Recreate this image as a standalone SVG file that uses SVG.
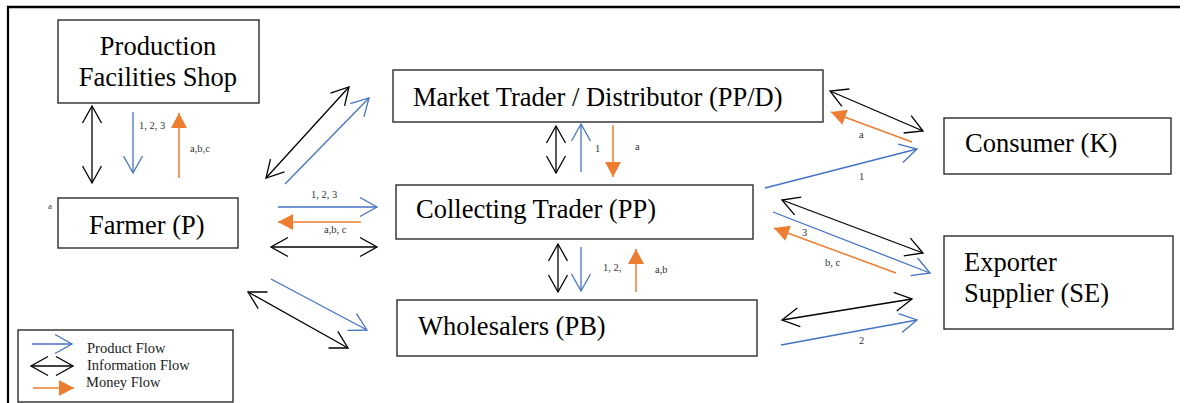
<svg xmlns="http://www.w3.org/2000/svg" width="1190" height="403" viewBox="0 0 1190 403">
  <style>
    .box { fill: #ffffff; stroke: #2b2b2b; stroke-width: 1.4; }
    .nm { font-size: 26.5px; fill: #000000; }
    .lbl { font-size: 10.5px; fill: #333333; }
    .leg { font-size: 14.5px; fill: #1a1a1a; }
    .info { stroke: #000000; stroke-width: 1.3; fill: none; marker-start: url(#chevK); marker-end: url(#chevK); }
    .prod { stroke: #4472C4; stroke-width: 1.3; fill: none; marker-end: url(#chevB); }
    .money { stroke: #ED7D31; stroke-width: 1.5; fill: none; marker-end: url(#triO); }
  </style>
  <defs>
    <!-- open chevron heads for information (black) and product (blue) flows -->
    <marker id="chevK" markerUnits="userSpaceOnUse" viewBox="-19 -11 21 22" markerWidth="21" markerHeight="22" refX="0" refY="0" orient="auto-start-reverse" overflow="visible">
      <path d="M-17,-9.5 L0,0 L-17,9.5" fill="none" stroke="#000000" stroke-width="1.3"/>
    </marker>
    <marker id="chevB" markerUnits="userSpaceOnUse" viewBox="-19 -11 21 22" markerWidth="21" markerHeight="22" refX="0" refY="0" orient="auto" overflow="visible">
      <path d="M-17,-9.5 L0,0 L-17,9.5" fill="none" stroke="#4472C4" stroke-width="1.3"/>
    </marker>
    <!-- filled triangle head for money flow -->
    <marker id="triO" markerUnits="userSpaceOnUse" viewBox="-16 -9 17 18" markerWidth="17" markerHeight="18" refX="0" refY="0" orient="auto" overflow="visible">
      <path d="M-15,-8 L0,0 L-15,8 Z" fill="#ED7D31"/>
    </marker>
  </defs>

  <rect width="1190" height="403" fill="#ffffff"/>

  <!-- frame -->
  <line x1="7" y1="7" x2="1180" y2="7" stroke="#000000" stroke-width="2.4"/>
  <line x1="8" y1="6" x2="8" y2="403" stroke="#000000" stroke-width="2.2"/>

  <g font-family="'Liberation Serif', 'Times New Roman', serif">
    <g id="node-shop">
      <rect class="box" x="58" y="20" width="201" height="83"/>
      <text class="nm" x="158" y="55" text-anchor="middle">Production</text>
      <text class="nm" x="158" y="86" text-anchor="middle">Facilities Shop</text>
    </g>

    <g id="node-farmer">
      <rect class="box" x="58" y="198" width="180" height="50"/>
      <text class="nm" x="89" y="234">Farmer (P)</text>
      <text class="lbl" x="48" y="209" style="font-size:9px">a</text>
    </g>

    <g id="node-market">
      <rect class="box" x="393" y="70" width="430" height="52"/>
      <text class="nm" x="413" y="106">Market Trader / Distributor (PP/D)</text>
    </g>

    <g id="node-collecting">
      <rect class="box" x="396" y="185" width="357" height="54"/>
      <text class="nm" x="416" y="218">Collecting Trader (PP)</text>
    </g>

    <g id="node-wholesalers">
      <rect class="box" x="397" y="300" width="360" height="56"/>
      <text class="nm" x="418" y="335">Wholesalers (PB)</text>
    </g>

    <g id="node-consumer">
      <rect class="box" x="944" y="118" width="227" height="56"/>
      <text class="nm" x="965" y="152">Consumer (K)</text>
    </g>

    <g id="node-exporter">
      <rect class="box" x="944" y="236" width="229" height="93"/>
      <text class="nm" x="964" y="271">Exporter</text>
      <text class="nm" x="964" y="302">Supplier (SE)</text>
    </g>

    <g id="connectors">
      <!-- information flows -->
      <line class="info" x1="92" y1="106" x2="92" y2="183"/>
      <line class="info" x1="266" y1="178" x2="349" y2="87"/>
      <line class="info" x1="271" y1="247" x2="377" y2="247"/>
      <line class="info" x1="248" y1="292" x2="348" y2="348"/>
      <line class="info" x1="556" y1="126" x2="556" y2="173"/>
      <line class="info" x1="558" y1="244" x2="558" y2="292"/>
      <line class="info" x1="830" y1="91" x2="923" y2="131"/>
      <line class="info" x1="782" y1="200" x2="923" y2="253"/>
      <line class="info" x1="782" y1="320" x2="912" y2="299"/>

      <!-- product flows -->
      <line class="prod" x1="133" y1="112" x2="133" y2="173"/>
      <line class="prod" x1="285" y1="184" x2="369" y2="98"/>
      <line class="prod" x1="278" y1="207" x2="377" y2="207"/>
      <line class="prod" x1="271" y1="279" x2="367" y2="330"/>
      <line class="prod" x1="581" y1="172" x2="581" y2="124"/>
      <line class="prod" x1="581" y1="247" x2="581" y2="291"/>
      <line class="prod" x1="765" y1="188" x2="917" y2="149"/>
      <line class="prod" x1="773" y1="212" x2="930" y2="273"/>
      <line class="prod" x1="781" y1="345" x2="917" y2="320"/>

      <!-- money flows -->
      <line class="money" x1="179" y1="178" x2="179" y2="113"/>
      <line class="money" x1="361" y1="222" x2="278" y2="222"/>
      <line class="money" x1="613" y1="125" x2="613" y2="177"/>
      <line class="money" x1="636" y1="292" x2="636" y2="249"/>
      <line class="money" x1="912" y1="142" x2="831" y2="112"/>
      <line class="money" x1="896" y1="273" x2="774" y2="228"/>

      <!-- flow labels -->
      <text class="lbl" x="139" y="129">1, 2, 3</text>
      <text class="lbl" x="190" y="152">a,b,c</text>
      <text class="lbl" x="311" y="198">1, 2, 3</text>
      <text class="lbl" x="324" y="233">a,b, c</text>
      <text class="lbl" x="595" y="152">1</text>
      <text class="lbl" x="635" y="150">a</text>
      <text class="lbl" x="603" y="271">1, 2,</text>
      <text class="lbl" x="655" y="273">a,b</text>
      <text class="lbl" x="859" y="138">a</text>
      <text class="lbl" x="859" y="180">1</text>
      <text class="lbl" x="802" y="236">3</text>
      <text class="lbl" x="825" y="266">b, c</text>
      <text class="lbl" x="859" y="344">2</text>
    </g>

    <g id="legend">
      <rect x="18" y="330" width="215" height="72" fill="#ffffff" stroke="#1a1a1a" stroke-width="1.3"/>
      <line class="prod" x1="32" y1="344" x2="72" y2="344"/>
      <line class="info" x1="31" y1="366" x2="73" y2="366"/>
      <line class="money" x1="33" y1="388" x2="74" y2="388"/>
      <text class="leg" x="87" y="353">Product Flow</text>
      <text class="leg" x="87" y="370">Information Flow</text>
      <text class="leg" x="86" y="387">Money Flow</text>
    </g>
  </g>
</svg>
